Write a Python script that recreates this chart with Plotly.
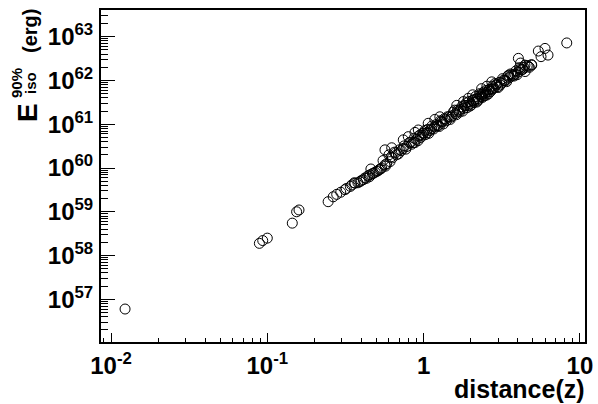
import plotly.graph_objects as go

# ---------------- data ----------------
# nearby events
z_near = [0.0123, 0.089, 0.0935, 0.100, 0.1445, 0.154, 0.1595]
E_near = [6.0e56, 1.9e58, 2.2e58, 2.5e58, 5.5e58, 1.0e59, 1.1e59]

# start of the main band
z_low = [0.245, 0.264, 0.278, 0.295, 0.314, 0.32, 0.34, 0.347, 0.36, 0.364,
         0.38, 0.392, 0.40, 0.411, 0.42, 0.43, 0.44, 0.45, 0.454, 0.46,
         0.47, 0.477, 0.49, 0.50, 0.51, 0.52, 0.53, 0.539, 0.55, 0.566,
         0.57, 0.58, 0.60, 0.610]
E_low = [1.7e59, 2.2e59, 2.5e59, 2.8e59, 3.2e59, 3.4e59, 3.8e59, 4.1e59, 4.6e59, 4.5e59,
         4.6e59, 4.9e59, 5.2e59, 5.4e59, 5.9e59, 5.8e59, 6.6e59, 6.3e59, 7.0e59, 9.5e59,
         7.4e59, 7.6e59, 8.0e59, 8.4e59, 8.6e59, 9.2e59, 9.5e59, 1.0e60, 1.48e60, 1.18e60,
         1.1e60, 1.25e60, 2.0e60, 1.4e60]

# dense band
z_band = [0.62, 0.63, 0.65, 0.66, 0.67, 0.69, 0.70, 0.72, 0.74, 0.75,
          0.77, 0.78, 0.81, 0.83, 0.84, 0.86, 0.87, 0.88, 0.90, 0.92,
          0.93, 0.95, 0.96, 0.98, 0.99, 1.00, 1.02, 1.03, 1.05, 1.06,
          1.08, 1.10, 1.12, 1.13, 1.16, 1.18, 1.20, 1.22, 1.24, 1.26,
          1.28, 1.30, 1.32, 1.34, 1.36, 1.38, 1.40, 1.42, 1.45, 1.48,
          1.50, 1.52, 1.55, 1.58, 1.60, 1.62, 1.65, 1.68, 1.70, 1.72,
          1.75, 1.78, 1.80, 1.82, 1.85, 1.88, 1.90, 1.92, 1.95, 1.98,
          2.00, 2.02, 2.05, 2.08, 2.10, 2.12, 2.15, 2.18, 2.20, 2.22,
          2.25, 2.28, 2.30, 2.32, 2.35, 2.38, 2.40, 2.42, 2.45, 2.48,
          2.50, 2.52, 2.56, 2.59, 2.62, 2.65, 2.68, 2.72, 2.75, 2.78,
          2.82, 2.86, 2.90, 2.94, 2.98, 3.00, 3.06, 3.10, 3.15, 3.20,
          3.25, 3.30, 3.35, 3.40, 3.45, 3.50, 3.55, 3.60, 3.66, 3.72,
          3.78, 3.84, 3.90, 3.96, 4.02, 4.10, 4.15, 4.22, 4.30, 4.38,
          4.45, 4.46, 4.60, 4.68, 4.75, 4.90, 4.92]
E_band = [1.8e60, 1.7e60, 2.3e60, 2.2e60, 2.0e60, 2.1e60, 2.6e60, 2.5e60, 2.8e60, 3.2e60,
          2.7e60, 3.1e60, 3.8e60, 3.9e60, 3.5e60, 3.8e60, 4.8e60, 3.8e60, 4.5e60, 4.2e60,
          5.4e60, 5.7e60, 5.0e60, 5.6e60, 6.3e60, 6.2e60, 7.2e60, 5.8e60, 6.4e60, 7.6e60,
          6.2e60, 7.2e60, 7.8e60, 9.1e60, 7.8e60, 8.7e60, 9.8e60, 9.2e60, 9.3e60, 8.9e60,
          1.2e61, 1.15e61, 1.12e61, 1.02e61, 1.35e61, 1.29e61, 1.2e61, 1.48e61, 1.48e61, 1.29e61,
          1.45e61, 1.55e61, 1.9e61, 2.1e61, 1.75e61, 1.65e61, 2.1e61, 2.0e61, 1.9e61, 2.2e61,
          2.5e61, 2.0e61, 2.3e61, 2.7e61, 2.65e61, 3.1e61, 2.4e61, 2.68e61, 3.3e61, 2.6e61,
          3.0e61, 2.75e61, 3.5e61, 3.4e61, 3.15e61, 3.7e61, 4.3e61, 3.2e61, 3.8e61, 3.4e61,
          3.7e61, 5.0e61, 4.7e61, 4.4e61, 4.2e61, 4.1e61, 4.9e61, 5.4e61, 4.5e61, 5.1e61,
          5.9e61, 4.6e61, 5.4e61, 4.9e61, 6.2e61, 6.3e61, 5.6e61, 6.3e61, 7.4e61, 6.4e61,
          6.8e61, 8.5e61, 7.8e61, 8.3e61, 7.2e61, 6.9e61, 9.1e61, 7.9e61, 8.7e61, 1.1e62,
          1.02e62, 1.0e62, 9.8e61, 9.4e61, 1.26e62, 1.32e62, 1.17e62, 1.41e62, 1.35e62, 1.29e62,
          1.26e62, 1.4e62, 1.66e62, 1.35e62, 1.55e62, 1.95e62, 1.82e62, 1.75e62, 1.78e62, 2.0e62,
          2.24e62, 1.6e62, 2.19e62, 2.1e62, 2.0e62, 2.3e62, 2.24e62]

# points lying above the band
z_high = [0.566, 0.625, 0.741, 0.798, 0.881, 0.925, 1.07, 1.18, 1.27, 1.63,
          1.80, 1.93, 2.06, 2.35, 2.54, 2.73, 4.04, 4.17, 5.42, 5.98,
          5.64, 6.25, 8.24]
E_high = [2.6e60, 2.9e60, 4.4e60, 5.2e60, 6.5e60, 7.4e60, 1.05e61, 1.29e61, 1.48e61, 2.7e61,
          3.3e61, 3.9e61, 4.7e61, 6.5e61, 7.4e61, 9.3e61, 3.2e62, 2.5e62, 4.7e62, 5.4e62,
          3.5e62, 3.8e62, 7.2e62]

x_tickvals = [0.01, 0.1, 1, 10]
x_ticktext = ["10<sup>-2</sup>", "10<sup>-1</sup>", "1", "10"]
y_tickvals = [1e57, 1e58, 1e59, 1e60, 1e61, 1e62, 1e63]
y_ticktext = ["10<sup>57</sup>", "10<sup>58</sup>", "10<sup>59</sup>", "10<sup>60</sup>",
              "10<sup>61</sup>", "10<sup>62</sup>", "10<sup>63</sup>"]

x_minor = [k * 10.0 ** n for n in range(-3, 2) for k in range(2, 10)]
y_minor = [k * 10.0 ** n for n in range(56, 64) for k in range(2, 10)]

# ---------------- figure ----------------
FONT = "Liberation Sans"
W, H = 598, 404
ML, MR, MT, MB = 101, 13, 10, 62
PW, PH = W - ML - MR, H - MT - MB


def fx(px):
    return (px - ML) / PW


def fy(py):
    return (H - MB - py) / PH


z_all = z_near + z_low + z_band + z_high
E_all = E_near + E_low + E_band + E_high

fig = go.Figure()
fig.add_trace(go.Scatter(
    x=z_all, y=E_all, mode="markers",
    marker=dict(symbol="circle-open", size=10, color="black",
                line=dict(width=1, color="black")),
    showlegend=False,
))

tickfont = dict(family=FONT, size=24, color="black", weight="bold")

fig.update_xaxes(
    type="log", range=[-2.064, 1.0326],
    showline=True, linecolor="black", linewidth=2, mirror=True,
    showgrid=False, zeroline=False,
    ticks="inside", ticklen=9, tickwidth=1, tickcolor="black",
    tickmode="array", tickvals=x_tickvals, ticktext=x_ticktext,
    tickfont=tickfont, ticklabelstandoff=1,
    minor=dict(tickmode="array", tickvals=x_minor, ticks="inside",
               ticklen=4, tickwidth=1, tickcolor="black", showgrid=False),
)
fig.update_yaxes(
    type="log", range=[56.025, 63.61],
    showline=True, linecolor="black", linewidth=2, mirror=True,
    showgrid=False, zeroline=False,
    ticks="inside", ticklen=14, tickwidth=1, tickcolor="black",
    tickmode="array", tickvals=y_tickvals, ticktext=y_ticktext,
    tickfont=tickfont, ticklabelstandoff=1,
    minor=dict(tickmode="array", tickvals=y_minor, ticks="inside",
               ticklen=7, tickwidth=1, tickcolor="black", showgrid=False),
)

bold = dict(family=FONT, color="black", weight="bold")
annotations = [
    dict(text="distance(z)", x=fx(587), y=fy(389), xanchor="right", yanchor="middle",
         font=dict(size=25, **bold)),
    dict(text="(erg)", x=fx(30), y=fy(31), xanchor="center", yanchor="middle",
         textangle=-90, font=dict(size=20, **bold)),
    dict(text="E", x=fx(28), y=fy(113), xanchor="center", yanchor="middle",
         textangle=-90, font=dict(size=28, **bold)),
    dict(text="90%", x=fx(17), y=fy(83), xanchor="center", yanchor="middle",
         textangle=-90, font=dict(size=15, **bold)),
    dict(text="iso", x=fx(31), y=fy(83), xanchor="center", yanchor="middle",
         textangle=-90, font=dict(size=15, **bold)),
]
for a in annotations:
    a.update(xref="paper", yref="paper", showarrow=False)

fig.update_layout(
    width=W, height=H,
    margin=dict(l=ML, r=MR, t=MT, b=MB, autoexpand=False),
    paper_bgcolor="white", plot_bgcolor="white",
    annotations=annotations,
)

fig.write_html("out.html", config={"displayModeBar": False},
               post_script="document.body.style.margin='0';")
